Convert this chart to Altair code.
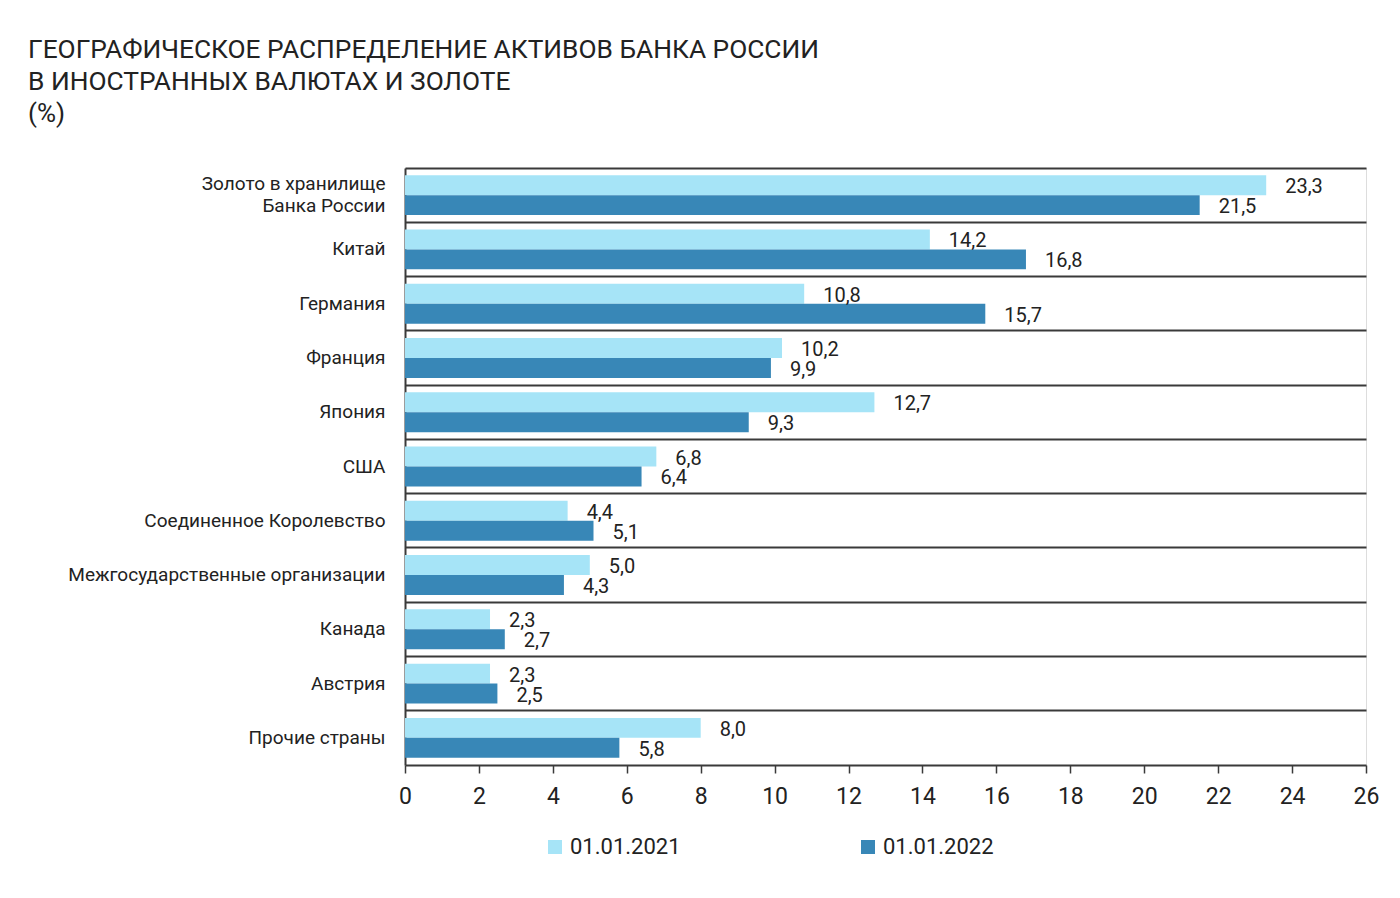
import altair as alt
import pandas as pd

categories = [
    "Золото в хранилище|Банка России",
    "Китай\u00a0",
    "Германия",
    "Франция",
    "Япония",
    "США",
    "Соединенное Королевство",
    "Межгосударственные организации",
    "Канада",
    "Австрия",
    "Прочие страны",
]
series = ["01.01.2021", "01.01.2022"]
values_2021 = [23.3, 14.2, 10.8, 10.2, 12.7, 6.8, 4.4, 5.0, 2.3, 2.3, 8.0]
values_2022 = [21.5, 16.8, 15.7, 9.9, 9.3, 6.4, 5.1, 4.3, 2.7, 2.5, 5.8]
x_ticks = list(range(0, 27, 2))

rows = []
for c, a, b in zip(categories, values_2021, values_2022):
    rows.append({"cat": c, "series": series[0], "value": a})
    rows.append({"cat": c, "series": series[1], "value": b})
df = pd.DataFrame(rows)
df["label"] = df["value"].map(lambda v: f"{v:.1f}".replace(".", ","))

LIGHT = "#a6e4f7"
DARK = "#3887b7"
TEXT = "#222222"
LINE = "#3a3a3a"
FONT = "Roboto"

y_enc = alt.Y(
    "cat:N",
    sort=categories,
    scale=alt.Scale(paddingInner=0, paddingOuter=0),
    axis=alt.Axis(
        title=None,
        labelExpr="split(datum.label, '|')",
        labelFont=FONT,
        labelFontSize=19,
        labelColor=TEXT,
        labelLineHeight=22,
        labelPadding=20,
        labelLimit=0,
        labelOffset={
            "condition": {"test": "indexof(datum.value, '|') >= 0", "value": -11},
            "value": 0,
        },
        ticks=False,
        domain=True,
        domainColor=LINE,
        domainWidth=2,
        grid=True,
        gridColor=LINE,
        gridWidth=2,
        bandPosition=0,
    ),
)
yoff_enc = alt.YOffset(
    "series:N",
    sort=series,
    scale=alt.Scale(paddingOuter=0.36, paddingInner=0),
)

base = alt.Chart(df)

bars = base.mark_bar(cornerRadius=0, strokeWidth=0).encode(
    x=alt.X(
        "value:Q",
        scale=alt.Scale(domain=[0, 26], nice=False, zero=True),
        axis=alt.Axis(
            title=None,
            values=x_ticks,
            labelFont=FONT,
            labelFontSize=23,
            labelColor=TEXT,
            labelPadding=12,
            labelFlush=False,
            tickSize=8,
            tickColor=LINE,
            tickWidth=1.5,
            domainColor=LINE,
            domainWidth=2,
            grid=False,
        ),
    ),
    y=y_enc,
    yOffset=yoff_enc,
    color=alt.Color(
        "series:N",
        sort=series,
        scale=alt.Scale(domain=series, range=[LIGHT, DARK]),
        legend=alt.Legend(
            title=None,
            orient="none",
            legendX=139,
            legendY=668,
            direction="horizontal",
            symbolType="square",
            symbolSize=196,
            symbolStrokeWidth=0,
            labelFont=FONT,
            labelFontSize=22,
            labelColor=TEXT,
            labelOffset=4,
            columnPadding=176,
        ),
    ),
)

labels = base.mark_text(
    align="left", baseline="middle", dx=19, dy=2, font=FONT, fontSize=20, color=TEXT
).encode(
    x="value:Q",
    y=alt.Y("cat:N", sort=categories),
    yOffset=alt.YOffset("series:N", sort=series),
    text="label:N",
)

chart = (
    alt.layer(bars, labels)
    .properties(
        width=961,
        height=597,
        padding={"left": 20, "top": 28, "right": 10, "bottom": 10},
        title=alt.TitleParams(
            text=[
                "ГЕОГРАФИЧЕСКОЕ РАСПРЕДЕЛЕНИЕ АКТИВОВ БАНКА РОССИИ",
                "В ИНОСТРАННЫХ ВАЛЮТАХ И ЗОЛОТЕ",
            ],
            subtitle="(%)",
            anchor="start",
            frame="group",
            dx=-377,
            font=FONT,
            fontSize=26.3,
            fontWeight="normal",
            lineHeight=32,
            color=TEXT,
            subtitleFont=FONT,
            subtitleFontSize=26,
            subtitleColor=TEXT,
            subtitlePadding=6,
            offset=41,
        ),
    )
    .configure_view(strokeWidth=0)
    .configure(background="white")
)

chart.save("out.html", embed_options={"renderer": "svg", "actions": False})
